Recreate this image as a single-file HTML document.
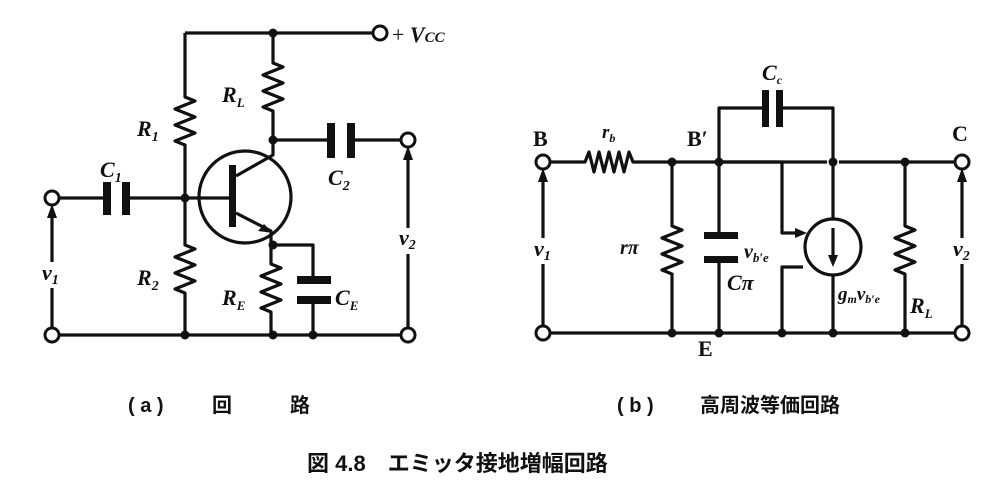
<!DOCTYPE html>
<html><head><meta charset="utf-8"><style>
html,body{margin:0;padding:0;background:#fff;}
svg{display:block;}
text{font-family:"Liberation Serif","Noto Serif CJK SC",serif;fill:#111;}
.it{font-style:italic;font-weight:bold;}
.jp{font-family:"Liberation Sans","Noto Sans CJK JP",sans-serif;font-weight:bold;}
</style></head><body>
<svg width="999" height="487" viewBox="0 0 999 487" xmlns="http://www.w3.org/2000/svg">
<g stroke="#111" stroke-width="3.2" fill="none" stroke-linejoin="round">
<path d="M185 33 H372"/>
<path d="M185 33 V97 l10 4 -20 8 20 8 -20 8 20 8 -20 8 10 4 V245 l10 4 -20 8 20 8 -20 8 20 8 -20 8 10 4 V335"/>
<path d="M273 33 V63 l10 4 -20 8 20 8 -20 8 20 8 -20 8 10 4 V155 L236 176"/>
<path d="M273 140 H330 M352 140 H402"/>
<path d="M58 198 H105 M127 198 H232"/>
<circle cx="245" cy="197" r="46"/>
<path d="M236 213 L271 231 V264 l10 4 -20 8 20 8 -20 8 20 8 -20 8 10 4 V335"/>
<path d="M273 245 H313 V280 M313 300 V335"/>
<path d="M58 335 H402"/>
<path d="M52 329 V210 M408 329 V150"/>
<path d="M549 162 H585 l4 -10 5 20 5 -20 5 20 5 -20 5 20 5 -20 5 20 5 -20 4 10 H827"/>
<path d="M719 162 V108 H763 M780 108 H833 V219 M833 275 V333"/>
<path d="M839 162 H956"/>
<path d="M672 162 V226 l10 4 -20 8 20 8 -20 8 20 8 -20 8 10 4 V333"/>
<path d="M719 162 V235 M719 260 V333"/>
<path d="M905 162 V226 l10 4 -20 8 20 8 -20 8 20 8 -20 8 10 4 V333"/>
<path d="M719 162 H782 V233 H800 M803 267 H782 V333"/>
<circle cx="833" cy="247" r="28"/>
<path d="M833 228 V262"/>
<path d="M549 333 H956"/>
<path d="M543 327 V176 M962 327 V176"/>
</g>
<g fill="#fff">
<rect x="42" y="262" width="22" height="26"/>
<rect x="398" y="228" width="22" height="26"/>
<rect x="533" y="238" width="22" height="26"/>
<rect x="952" y="238" width="22" height="26"/>
</g>
<g fill="#111">
<rect x="229" y="165" width="7" height="62"/>
<rect x="103" y="182" width="8" height="33"/>
<rect x="122" y="182" width="8" height="33"/>
<rect x="327" y="123" width="8" height="35"/>
<rect x="347" y="123" width="8" height="35"/>
<rect x="297" y="276" width="34" height="8"/>
<rect x="297" y="296" width="34" height="8"/>
<rect x="762" y="90" width="7" height="37"/>
<rect x="776" y="90" width="7" height="37"/>
<rect x="704" y="232" width="34" height="7"/>
<rect x="704" y="256" width="34" height="7"/>
<path d="M273 233 L258 231 L264 224 Z"/>
<path d="M52 204 L47 218 L57 218 Z"/>
<path d="M408 146 L403 160 L413 160 Z"/>
<path d="M543 168 L538 182 L548 182 Z"/>
<path d="M962 168 L957 182 L967 182 Z"/>
<path d="M833 267 L828 255 L838 255 Z"/>
<path d="M807 233 L795 228 L795 238 Z"/>
<circle cx="273" cy="33" r="4.5"/><circle cx="185" cy="198" r="4.5"/>
<circle cx="273" cy="140" r="4.5"/><circle cx="273" cy="245" r="4.5"/>
<circle cx="185" cy="335" r="4.5"/><circle cx="273" cy="335" r="4.5"/><circle cx="313" cy="335" r="4.5"/>
<circle cx="672" cy="162" r="4.5"/><circle cx="719" cy="162" r="4.5"/>
<circle cx="833" cy="162" r="4.5"/><circle cx="905" cy="162" r="4.5"/>
<circle cx="672" cy="333" r="4.5"/><circle cx="719" cy="333" r="4.5"/><circle cx="782" cy="333" r="4.5"/>
<circle cx="833" cy="333" r="4.5"/><circle cx="905" cy="333" r="4.5"/>
</g>
<g fill="#fff" stroke="#111" stroke-width="3">
<circle cx="380" cy="33" r="7"/><circle cx="52" cy="198" r="7"/><circle cx="408" cy="140" r="7"/>
<circle cx="52" cy="335" r="7"/><circle cx="408" cy="335" r="7"/>
<circle cx="543" cy="162" r="7"/><circle cx="962" cy="162" r="7"/>
<circle cx="543" cy="333" r="7"/><circle cx="962" cy="333" r="7"/>
</g>
<g font-size="22">
<text x="392" y="42">+ <tspan class="it">V</tspan><tspan class="it" font-size="15">CC</tspan></text>
<text x="222" y="102" class="it">R<tspan font-size="13" dy="5">L</tspan></text>
<text x="137" y="136" class="it">R<tspan font-size="14" dy="5">1</tspan></text>
<text x="100" y="177" class="it">C<tspan font-size="14" dy="5">1</tspan></text>
<text x="328" y="185" class="it">C<tspan font-size="14" dy="5">2</tspan></text>
<text x="137" y="285" class="it">R<tspan font-size="14" dy="5">2</tspan></text>
<text x="222" y="305" class="it">R<tspan font-size="13" dy="5">E</tspan></text>
<text x="335" y="305" class="it">C<tspan font-size="13" dy="5">E</tspan></text>
<text x="42" y="280" class="it">v<tspan font-size="14" dy="4">1</tspan></text>
<text x="399" y="245" class="it">v<tspan font-size="14" dy="4">2</tspan></text>
<text x="533" y="146" font-weight="bold">B</text>
<text x="602" y="138" class="it" font-size="19">r<tspan font-size="12" dy="4">b</tspan></text>
<text x="687" y="146" font-weight="bold">B′</text>
<text x="762" y="80" class="it">C<tspan font-size="12" dy="4">c</tspan></text>
<text x="952" y="141" font-weight="bold">C</text>
<text x="620" y="254" class="it" font-size="20">rπ</text>
<text x="744" y="258" class="it" font-size="20">v<tspan font-size="13" dy="4">b′e</tspan></text>
<text x="727" y="290" class="it">Cπ</text>
<text x="838" y="300" class="it" font-size="19">g<tspan font-size="12" dy="3">m</tspan><tspan dy="-3">v</tspan><tspan font-size="12" dy="3">b′e</tspan></text>
<text x="910" y="313" class="it">R<tspan font-size="13" dy="5">L</tspan></text>
<text x="534" y="256" class="it">v<tspan font-size="14" dy="4">1</tspan></text>
<text x="953" y="256" class="it">v<tspan font-size="14" dy="4">2</tspan></text>
<text x="698" y="356" font-weight="bold">E</text>
</g>
<g class="jp" font-size="20">
<text x="128" y="412" class="jp">( a )</text>
<text x="212" y="412" class="jp">回</text>
<text x="290" y="412" class="jp">路</text>
<text x="617" y="412" class="jp">( b )</text>
<text x="700" y="412" class="jp">高周波等価回路</text>
<text x="307" y="471" class="jp" font-size="22">図 4.8　エミッタ接地増幅回路</text>
</g>
</svg>
</body></html>
